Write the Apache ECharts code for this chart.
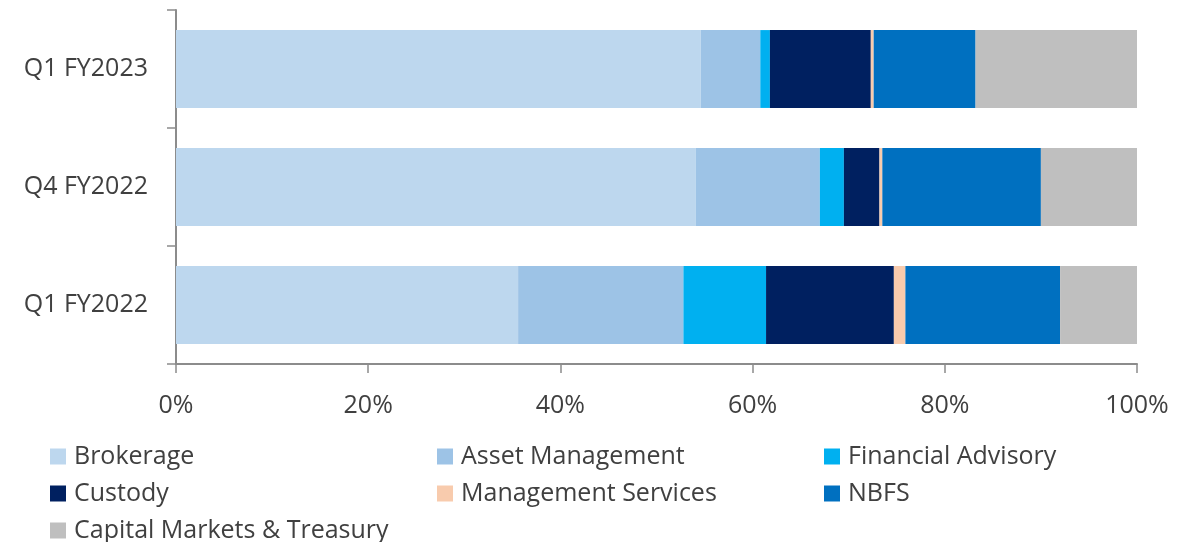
<!DOCTYPE html>
<html>
<head>
<meta charset="utf-8">
<script src="https://cdn.jsdelivr.net/npm/echarts@6/dist/echarts.min.js"></script>
<style>
  html, body { margin: 0; padding: 0; background: #fff; }
  #chart { width: 1198px; height: 542px; }
</style>
</head>
<body>
<div id="chart"></div>
<script>
var quarters = ['Q1 FY2022', 'Q4 FY2022', 'Q1 FY2023']
var segments = ['Brokerage', 'Asset Management', 'Financial Advisory', 'Custody', 'Management Services', 'NBFS', 'Capital Markets & Treasury']
var colors = ['#BDD7EE', '#9DC3E6', '#00B0F0', '#002060', '#F8CBAD', '#0070C0', '#BFBFBF']

// share of each segment, % (order matches quarters)
var brokerage = [35.6, 54.1, 54.6]
var assetMgmt = [17.2, 12.9, 6.2]
var finAdvisory = [8.6, 2.5, 1.0]
var custody = [13.3, 3.7, 10.5]
var mgmtServices = [1.2, 0.3, 0.3]
var nbfs = [16.1, 16.5, 10.6]
var capMarkets = [8.0, 10.0, 16.8]

var values = [brokerage, assetMgmt, finAdvisory, custody, mgmtServices, nbfs, capMarkets]

var font = 'Open Sans'
var textColor = '#404040'
var axisColor = '#8c8c8c'

var chart = echarts.init(document.getElementById('chart'))

chart.setOption({
  animation: false,
  textStyle: { fontFamily: font },
  grid: { left: 176, right: 61, top: 10, bottom: 178 },
  legend: {
    left: 45,
    top: 437,
    width: 1170,
    itemWidth: 16,
    itemHeight: 16,
    itemGap: 8,
    icon: 'rect',
    data: segments,
    textStyle: {
      fontFamily: font,
      fontSize: 25,
      color: textColor,
      width: 355,
      lineHeight: 29,
      padding: [0, 0, 0, 3]
    }
  },
  xAxis: {
    type: 'value',
    min: 0,
    max: 100,
    interval: 20,
    splitLine: { show: false },
    axisLine: { show: true, lineStyle: { color: axisColor, width: 2 } },
    axisTick: { show: true, length: 9, lineStyle: { color: axisColor, width: 1.5 } },
    axisLabel: {
      formatter: '{value}%',
      fontSize: 25,
      color: textColor,
      margin: 29,
      fontFamily: font
    }
  },
  yAxis: {
    type: 'category',
    data: quarters,
    axisLine: { show: true, lineStyle: { color: axisColor, width: 2 } },
    axisTick: { show: true, length: 9, lineStyle: { color: axisColor, width: 1.5 } },
    axisLabel: {
      fontSize: 25,
      color: textColor,
      margin: 28,
      fontFamily: font
    }
  },
  series: segments.map(function (name, i) {
    return {
      name: name,
      type: 'bar',
      stack: 'total',
      barCategoryGap: '34%',
      itemStyle: { color: colors[i] },
      data: values[i]
    }
  })
})
</script>
</body>
</html>
